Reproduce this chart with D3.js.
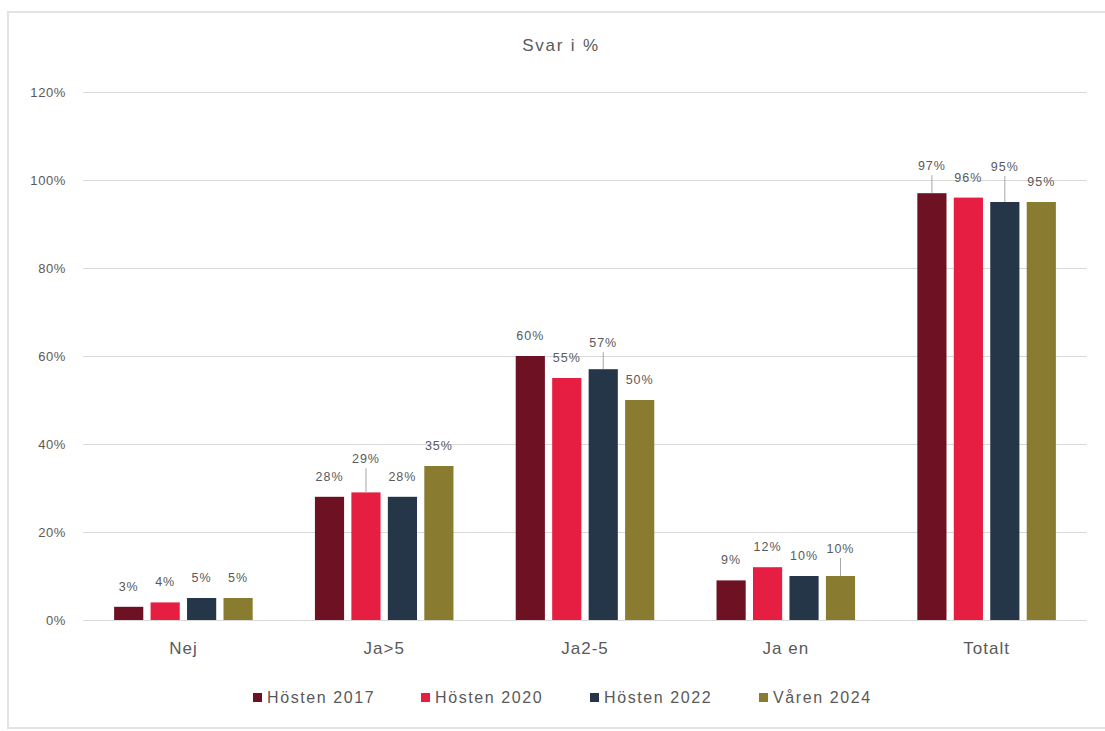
<!DOCTYPE html>
<html>
<head>
<meta charset="utf-8">
<script src="https://cdn.jsdelivr.net/npm/d3@7"></script>
<style>
  html, body { margin: 0; padding: 0; background: #ffffff; }
  svg { display: block; font-family: "Liberation Sans", Arial, sans-serif; }
</style>
</head>
<body>
<svg id="chart" width="1105" height="731"></svg>
<script>
// Survey answers, share of respondents per answer group and survey round
const categories = ["Nej", "Ja>5", "Ja2-5", "Ja en", "Totalt"];
const seriesNames = ["Hösten 2017", "Hösten 2020", "Hösten 2022", "Våren 2024"];
const hosten2017 = [3, 28, 60, 9, 97];
const hosten2020 = [4, 29, 55, 12, 96];
const hosten2022 = [5, 28, 57, 10, 95];
const varen2024  = [5, 35, 50, 10, 95];
const yTicks = [0, 20, 40, 60, 80, 100, 120];
const title = "Svar i %";

// extra lift (px) for labels that were nudged apart, drawn with a leader line
const labelLift = [
  [0, 0, 0, 0, 7],
  [0, 13, 0, 0, 0],
  [0, 0, 6, 0, 15],
  [0, 0, 0, 7, 0]
];

const seriesValues = [hosten2017, hosten2020, hosten2022, varen2024];
const colors = ["#6e1223", "#e61e42", "#263649", "#897b2f"];

const svg = d3.select("#chart");
const W = 1105, H = 731;
const plot = { left: 83, right: 1087, top: 92, bottom: 620 };

// chart frame
svg.append("rect")
  .attr("x", 8).attr("y", 12)
  .attr("width", W + 10).attr("height", 716)
  .attr("fill", "#ffffff")
  .attr("stroke", "#e3e3e3").attr("stroke-width", 2);

const y = d3.scaleLinear().domain([0, 120]).range([plot.bottom, plot.top]);
const x0 = d3.scaleBand().domain(categories)
  .range([plot.left, plot.right]).paddingInner(0.31).paddingOuter(0.155);
const x1 = d3.scaleBand().domain(seriesNames)
  .range([0, x0.bandwidth()]).paddingInner(0.2).paddingOuter(0);

// title
svg.append("text")
  .attr("x", 561).attr("y", 51)
  .attr("text-anchor", "middle")
  .attr("font-size", 17).attr("letter-spacing", 1.8)
  .attr("fill", "#595959")
  .text(title);

// y axis: gridlines and percent labels
const yAxis = d3.axisLeft(y)
  .tickValues(yTicks)
  .tickSize(-(plot.right - plot.left))
  .tickPadding(17)
  .tickFormat(d => d + "%");
const gy = svg.append("g")
  .attr("transform", `translate(${plot.left},0)`)
  .call(yAxis);
gy.select(".domain").remove();
gy.selectAll(".tick line")
  .attr("stroke", "#d9d9d9").attr("stroke-width", 1.2);
gy.selectAll(".tick text")
  .attr("fill", "#595959").attr("font-size", 13)
  .attr("letter-spacing", 0.6)
  .attr("font-family", "Liberation Sans, Arial, sans-serif");

// x axis labels
const xAxis = d3.axisBottom(x0).tickSize(0).tickPadding(22);
const gx = svg.append("g")
  .attr("transform", `translate(0,${plot.bottom})`)
  .call(xAxis);
gx.select(".domain").remove();
gx.selectAll(".tick text")
  .attr("fill", "#595959").attr("font-size", 17)
  .attr("letter-spacing", 1)
  .attr("font-family", "Liberation Sans, Arial, sans-serif");

// bars, value labels and leader lines
seriesNames.forEach((name, si) => {
  const g = svg.append("g");
  const rows = categories.map((c, ci) => ({
    c, v: seriesValues[si][ci], lift: labelLift[si][ci]
  }));
  g.selectAll("rect").data(rows).join("rect")
    .attr("x", d => x0(d.c) + x1(name))
    .attr("y", d => y(d.v))
    .attr("width", x1.bandwidth())
    .attr("height", d => y(0) - y(d.v))
    .attr("fill", colors[si]);

  g.selectAll("line").data(rows.filter(d => d.lift > 0)).join("line")
    .attr("x1", d => x0(d.c) + x1(name) + x1.bandwidth() / 2)
    .attr("x2", d => x0(d.c) + x1(name) + x1.bandwidth() / 2)
    .attr("y1", d => y(d.v))
    .attr("y2", d => y(d.v) - 11 - d.lift)
    .attr("stroke", "#a6a6a6").attr("stroke-width", 1);

  g.selectAll("text").data(rows).join("text")
    .attr("x", d => x0(d.c) + x1(name) + x1.bandwidth() / 2)
    .attr("y", d => y(d.v) - 16 - d.lift)
    .attr("text-anchor", "middle")
    .attr("font-size", 12.5).attr("letter-spacing", 1)
    .attr("fill", "#595959")
    .text(d => d.v + "%");
});

// legend
const legendX = [253, 421, 590, 759];
const legend = svg.append("g");
seriesNames.forEach((name, i) => {
  legend.append("rect")
    .attr("x", legendX[i]).attr("y", 693)
    .attr("width", 9).attr("height", 9)
    .attr("fill", colors[i]);
  legend.append("text")
    .attr("x", legendX[i] + 14).attr("y", 703)
    .attr("font-size", 16).attr("letter-spacing", 1.6)
    .attr("fill", "#595959")
    .text(name);
});
</script>
</body>
</html>
